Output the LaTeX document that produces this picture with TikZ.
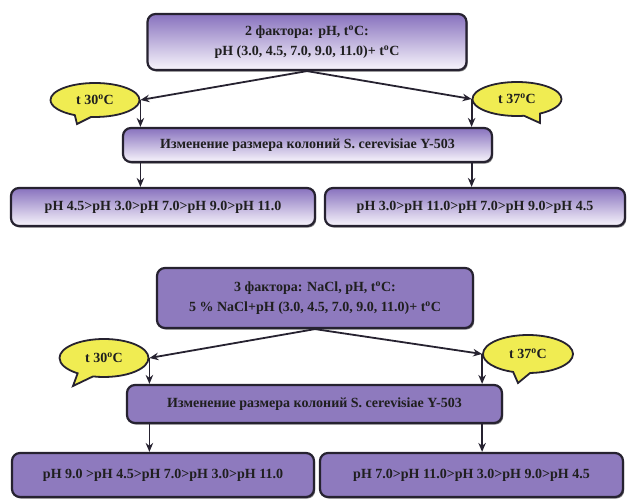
\documentclass[tikz,border=0pt]{standalone}
\usepackage{fontspec}
\setmainfont{Liberation Serif}
\usetikzlibrary{arrows.meta,shapes.callouts,shadows}
\definecolor{lilac}{RGB}{136,114,190}
\definecolor{lilacpale}{RGB}{248,245,252}
\definecolor{lilacflat}{RGB}{142,122,190}
\definecolor{bubble}{RGB}{240,236,82}
\definecolor{edge}{RGB}{38,34,48}
\tikzset {
  >=Stealth,
  every node/.style={font=\bfseries\fontsize{14}{20}\selectfont,text=black!88},
  box/.style={draw=edge,line width=2.2pt,rounded corners=8pt,align=center,inner sep=0pt,
    drop shadow={shadow xshift=1.2pt,shadow yshift=-1.6pt,fill=black,opacity=.5}},
  shadebox/.style={box,top color=lilac,bottom color=lilacpale},
  flatbox/.style={box,fill=lilacflat},
  temp/.style={ellipse callout,draw=edge,line width=1.8pt,fill=bubble,inner sep=0pt,
    callout pointer arc=22,minimum width=89pt,minimum height=34pt},
  link/.style={line width=1.8pt,draw=edge,arrows={-Stealth[length=9pt,width=7.5pt]}},
}

\begin{document}
\begin{tikzpicture}[x=1pt,y=-1pt]
          \useasboundingbox (0,0) rectangle (632,501);
          % two factors
          \node (f2) at (307,42)[shadebox,minimum width=319pt,minimum height=56pt]
            {2 фактора: pH, t\textsuperscript{o}C:\\pH (3.0, 4.5, 7.0, 9.0, 11.0)+ t\textsuperscript{o}C};
          \node (t30a) at (95,100)[temp,callout absolute pointer={(77,124)}]{t 30\textsuperscript{o}C};
          \node (t37a) at (517,99)[temp,callout absolute pointer={(540,123)}]{t 37\textsuperscript{o}C};
          \node (izm1) at (307.5,145)[shadebox,minimum width=369pt,minimum height=34pt]
            {Изменение размера колоний S. cerevisiae Y-503};
          \node (r1) at (163,207)[shadebox,minimum width=304pt,minimum height=38pt]
            {pH 4.5>pH 3.0>pH 7.0>pH 9.0>pH 11.0};
          \node (r2) at (475,207)[shadebox,minimum width=300pt,minimum height=38pt]
            {pH 3.0>pH 11.0>pH 7.0>pH 9.0>pH 4.5};
          \draw[link] (f2.south) -- (t30a.east);
          \draw[link] (f2.south) -- (t37a.west);
          \draw[link] (t30a.east) -- (t30a.east |- izm1.north);
          \draw[link] (t37a.west) -- (t37a.west |- izm1.north);
          \draw[link] (izm1.south -| t30a.east) -- (t30a.east |- r1.north);
          \draw[link] (izm1.south -| t37a.west) -- (t37a.west |- r2.north);
          % three factors
          \node (f3) at (315,298)[flatbox,minimum width=316pt,minimum height=60pt]
            {3 фактора: NaCl, pH, t\textsuperscript{o}C:\\5 \% NaCl+pH (3.0, 4.5, 7.0, 9.0, 11.0)+ t\textsuperscript{o}C};
          \node (t30b) at (104,358)[temp,minimum height=38pt,callout absolute pointer={(73,386)}]{t 30\textsuperscript{o}C};
          \node (t37b) at (528,354)[temp,minimum height=38pt,minimum width=90pt,callout absolute pointer={(518,383)}]{t 37\textsuperscript{o}C};
          \node (izm2) at (314.5,404)[flatbox,minimum width=375pt,minimum height=38pt]
            {Изменение размера колоний S. cerevisiae Y-503};
          \node (r3) at (163,475)[flatbox,minimum width=302pt,minimum height=44pt]
            {pH 9.0 >pH 4.5>pH 7.0>pH 3.0>pH 11.0};
          \node (r4) at (471.5,475)[flatbox,minimum width=303pt,minimum height=44pt]
            {pH 7.0>pH 11.0>pH 3.0>pH 9.0>pH 4.5};
          \draw[link] (f3.south) -- (t30b.east);
          \draw[link] (f3.south) -- (t37b.west);
          \draw[link] (t30b.east) -- (t30b.east |- izm2.north);
          \draw[link] (t37b.west) -- (t37b.west |- izm2.north);
          \draw[link] (izm2.south -| t30b.east) -- (t30b.east |- r3.north);
          \draw[link] (izm2.south -| t37b.west) -- (t37b.west |- r4.north);
        \end{tikzpicture}
\end{document}
